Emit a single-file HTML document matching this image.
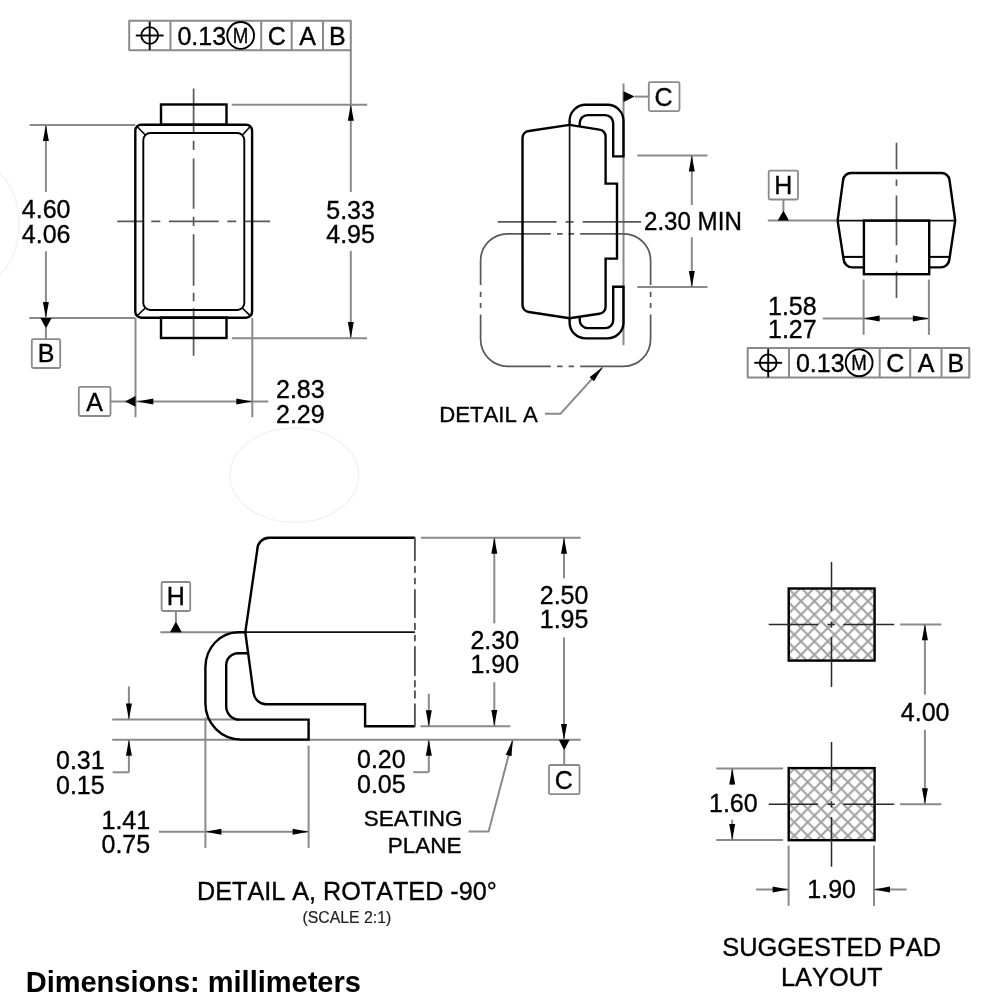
<!DOCTYPE html>
<html><head><meta charset="utf-8"><style>
html,body{margin:0;padding:0;background:#fff;}
svg{display:block;will-change:transform;}
text{font-family:"Liberation Sans",sans-serif;fill:#000;font-kerning:none;stroke:#000;stroke-width:0.35px;}
</style></head><body>
<svg width="996" height="1000" viewBox="0 0 996 1000">
<rect width="996" height="1000" fill="#fff"/>
<path d="M193.6,88.4V133 M193.6,140.8V150 M193.6,158.4V208.8 M193.6,216.7V226.1 M193.6,234.3V285.8 M193.6,292.8V301.2 M193.6,308.2V355.8" stroke="#585858" stroke-width="1.7" fill="none"/>
<path d="M117.2,221.4H143.3 M151.3,221.4H160.3 M168.9,221.4H218.7 M227.4,221.4H236.3 M244.8,221.4H270.1" stroke="#585858" stroke-width="1.7" fill="none"/>
<line x1="29.6" y1="125" x2="135.3" y2="125" stroke="#8a8a8a" stroke-width="2" fill="none" stroke-linejoin="round"/>
<line x1="45.9" y1="125" x2="45.9" y2="192" stroke="#8a8a8a" stroke-width="2" fill="none" stroke-linejoin="round"/>
<line x1="45.9" y1="251.3" x2="45.9" y2="318" stroke="#8a8a8a" stroke-width="2" fill="none" stroke-linejoin="round"/>
<line x1="29.4" y1="318" x2="135.3" y2="318" stroke="#8a8a8a" stroke-width="2" fill="none" stroke-linejoin="round"/>
<line x1="45.9" y1="328" x2="45.9" y2="339.2" stroke="#8a8a8a" stroke-width="2" fill="none" stroke-linejoin="round"/>
<rect x="31.8" y="339.2" width="28.4" height="28.8" rx="1.5" stroke="#8a8a8a" stroke-width="1.8" fill="none"/>
<line x1="350.8" y1="50" x2="350.8" y2="192" stroke="#8a8a8a" stroke-width="2" fill="none" stroke-linejoin="round"/>
<line x1="231.7" y1="104.8" x2="367.2" y2="104.8" stroke="#8a8a8a" stroke-width="2" fill="none" stroke-linejoin="round"/>
<line x1="350.8" y1="250.8" x2="350.8" y2="338" stroke="#8a8a8a" stroke-width="2" fill="none" stroke-linejoin="round"/>
<line x1="232" y1="338.2" x2="367" y2="338.2" stroke="#8a8a8a" stroke-width="2" fill="none" stroke-linejoin="round"/>
<line x1="135.5" y1="318" x2="135.5" y2="417.2" stroke="#8a8a8a" stroke-width="2" fill="none" stroke-linejoin="round"/>
<line x1="252.3" y1="318" x2="252.3" y2="417.2" stroke="#8a8a8a" stroke-width="2" fill="none" stroke-linejoin="round"/>
<line x1="110.5" y1="401.4" x2="268.2" y2="401.4" stroke="#8a8a8a" stroke-width="2" fill="none" stroke-linejoin="round"/>
<rect x="78.8" y="386.9" width="31.7" height="29.1" rx="1.5" stroke="#8a8a8a" stroke-width="1.8" fill="none"/>
<line x1="623.5" y1="83.6" x2="623.5" y2="345.3" stroke="#8a8a8a" stroke-width="2" fill="none" stroke-linejoin="round"/>
<line x1="634.7" y1="96.6" x2="648.8" y2="96.6" stroke="#8a8a8a" stroke-width="2" fill="none" stroke-linejoin="round"/>
<rect x="648.8" y="82.2" width="30.7" height="28.9" rx="1.5" stroke="#8a8a8a" stroke-width="1.8" fill="none"/>
<path d="M497.7,221.8H556.6 M565.6,221.8H573.6 M582.7,221.8H641" stroke="#585858" stroke-width="1.7" fill="none"/>
<path d="M507.6,233.8 H550.8 M557,233.8 H562.6 M568.6,233.8 H574.1 M580.2,233.8 H623.6 A27,27 0 0 1 650.6,260.8 V285 M650.6,291.7 V296.9 M650.6,302.9 V308.1 M650.6,314.4 V339.3 A27,27 0 0 1 623.6,366.3 H580.2 M574.1,366.3 H568.6 M562.6,366.3 H557 M550.8,366.3 H507.6 A27,27 0 0 1 480.6,339.3 V314.4 M480.6,308.1 V302.9 M480.6,296.9 V291.7 M480.6,285 V260.8 A27,27 0 0 1 507.6,233.8" stroke="#585858" stroke-width="1.7" fill="none"/>
<path d="M545,413.8 H560.4 L602.5,367.3" stroke="#8a8a8a" stroke-width="2" fill="none" stroke-linejoin="round"/>
<line x1="637.3" y1="155.6" x2="707.5" y2="155.6" stroke="#8a8a8a" stroke-width="2" fill="none" stroke-linejoin="round"/>
<line x1="637.3" y1="287" x2="707.5" y2="287" stroke="#8a8a8a" stroke-width="2" fill="none" stroke-linejoin="round"/>
<line x1="691.8" y1="155.6" x2="691.8" y2="205" stroke="#8a8a8a" stroke-width="2" fill="none" stroke-linejoin="round"/>
<line x1="691.8" y1="237.2" x2="691.8" y2="287" stroke="#8a8a8a" stroke-width="2" fill="none" stroke-linejoin="round"/>
<rect x="768.7" y="170.6" width="29.3" height="28.9" rx="1.5" stroke="#8a8a8a" stroke-width="1.8" fill="none"/>
<line x1="783.4" y1="199.5" x2="783.4" y2="211" stroke="#8a8a8a" stroke-width="2" fill="none" stroke-linejoin="round"/>
<line x1="767.8" y1="220.6" x2="837.6" y2="220.6" stroke="#8a8a8a" stroke-width="2" fill="none" stroke-linejoin="round"/>
<path d="M896.5,142.8V169.2 M896.5,179.6V186 M896.5,195.6V245.2 M896.5,254.8V262.8 M896.5,271.6V298.1" stroke="#585858" stroke-width="1.7" fill="none"/>
<line x1="863.6" y1="279.6" x2="863.6" y2="334.8" stroke="#8a8a8a" stroke-width="2" fill="none" stroke-linejoin="round"/>
<line x1="928.9" y1="279.6" x2="928.9" y2="334.8" stroke="#8a8a8a" stroke-width="2" fill="none" stroke-linejoin="round"/>
<line x1="822.8" y1="318.4" x2="928.9" y2="318.4" stroke="#8a8a8a" stroke-width="2" fill="none" stroke-linejoin="round"/>
<rect x="161.6" y="582" width="28.6" height="29" rx="1.5" stroke="#8a8a8a" stroke-width="1.8" fill="none"/>
<line x1="175.9" y1="611.6" x2="175.9" y2="622" stroke="#8a8a8a" stroke-width="2" fill="none" stroke-linejoin="round"/>
<line x1="160.4" y1="632.2" x2="245.3" y2="632.2" stroke="#8a8a8a" stroke-width="2" fill="none" stroke-linejoin="round"/>
<line x1="112.2" y1="719.6" x2="240" y2="719.6" stroke="#8a8a8a" stroke-width="2" fill="none" stroke-linejoin="round"/>
<line x1="112.2" y1="739.8" x2="580.6" y2="739.8" stroke="#8a8a8a" stroke-width="2" fill="none" stroke-linejoin="round"/>
<line x1="205.4" y1="717.5" x2="205.4" y2="848" stroke="#8a8a8a" stroke-width="2" fill="none" stroke-linejoin="round"/>
<line x1="308.6" y1="745.6" x2="308.6" y2="848" stroke="#8a8a8a" stroke-width="2" fill="none" stroke-linejoin="round"/>
<line x1="128.9" y1="686.4" x2="128.9" y2="719.6" stroke="#8a8a8a" stroke-width="2" fill="none" stroke-linejoin="round"/>
<line x1="128.9" y1="739.8" x2="128.9" y2="772.3" stroke="#8a8a8a" stroke-width="2" fill="none" stroke-linejoin="round"/>
<line x1="112.7" y1="772.3" x2="128.9" y2="772.3" stroke="#8a8a8a" stroke-width="2" fill="none" stroke-linejoin="round"/>
<line x1="159" y1="831.8" x2="308.6" y2="831.8" stroke="#8a8a8a" stroke-width="2" fill="none" stroke-linejoin="round"/>
<line x1="420.5" y1="726.2" x2="510.4" y2="726.2" stroke="#8a8a8a" stroke-width="2" fill="none" stroke-linejoin="round"/>
<line x1="428.8" y1="693.7" x2="428.8" y2="726.2" stroke="#8a8a8a" stroke-width="2" fill="none" stroke-linejoin="round"/>
<line x1="428.8" y1="739.8" x2="428.8" y2="772.2" stroke="#8a8a8a" stroke-width="2" fill="none" stroke-linejoin="round"/>
<line x1="413.3" y1="772.2" x2="428.8" y2="772.2" stroke="#8a8a8a" stroke-width="2" fill="none" stroke-linejoin="round"/>
<line x1="421" y1="537.7" x2="580.6" y2="537.7" stroke="#8a8a8a" stroke-width="2" fill="none" stroke-linejoin="round"/>
<line x1="494.3" y1="537.7" x2="494.3" y2="623.4" stroke="#8a8a8a" stroke-width="2" fill="none" stroke-linejoin="round"/>
<line x1="494.3" y1="682.2" x2="494.3" y2="726" stroke="#8a8a8a" stroke-width="2" fill="none" stroke-linejoin="round"/>
<line x1="564" y1="537.7" x2="564" y2="578.2" stroke="#8a8a8a" stroke-width="2" fill="none" stroke-linejoin="round"/>
<line x1="564" y1="637.5" x2="564" y2="740" stroke="#8a8a8a" stroke-width="2" fill="none" stroke-linejoin="round"/>
<line x1="564.2" y1="750" x2="564.2" y2="764.6" stroke="#8a8a8a" stroke-width="2" fill="none" stroke-linejoin="round"/>
<rect x="549" y="765" width="30.5" height="29.2" rx="1.5" stroke="#8a8a8a" stroke-width="1.8" fill="none"/>
<path d="M468.5,831.4 H488.6 L512.7,740" stroke="#8a8a8a" stroke-width="2" fill="none" stroke-linejoin="round"/>
<line x1="900" y1="624.5" x2="941.4" y2="624.5" stroke="#8a8a8a" stroke-width="2" fill="none" stroke-linejoin="round"/>
<line x1="900" y1="804.3" x2="941.4" y2="804.3" stroke="#8a8a8a" stroke-width="2" fill="none" stroke-linejoin="round"/>
<line x1="924.9" y1="624.3" x2="924.9" y2="694.6" stroke="#8a8a8a" stroke-width="2" fill="none" stroke-linejoin="round"/>
<line x1="924.9" y1="729.8" x2="924.9" y2="804.2" stroke="#8a8a8a" stroke-width="2" fill="none" stroke-linejoin="round"/>
<line x1="716.3" y1="768.4" x2="783.1" y2="768.4" stroke="#8a8a8a" stroke-width="2" fill="none" stroke-linejoin="round"/>
<line x1="716.3" y1="840.1" x2="783.1" y2="840.1" stroke="#8a8a8a" stroke-width="2" fill="none" stroke-linejoin="round"/>
<line x1="732.2" y1="768.4" x2="732.2" y2="785" stroke="#8a8a8a" stroke-width="2" fill="none" stroke-linejoin="round"/>
<line x1="732.2" y1="819.6" x2="732.2" y2="840.1" stroke="#8a8a8a" stroke-width="2" fill="none" stroke-linejoin="round"/>
<line x1="788.6" y1="845.6" x2="788.6" y2="905.9" stroke="#8a8a8a" stroke-width="2" fill="none" stroke-linejoin="round"/>
<line x1="874" y1="845.6" x2="874" y2="905.9" stroke="#8a8a8a" stroke-width="2" fill="none" stroke-linejoin="round"/>
<line x1="756.1" y1="889.5" x2="788.6" y2="889.5" stroke="#8a8a8a" stroke-width="2" fill="none" stroke-linejoin="round"/>
<line x1="874" y1="889.5" x2="906.6" y2="889.5" stroke="#8a8a8a" stroke-width="2" fill="none" stroke-linejoin="round"/>
<ellipse cx="-41" cy="224" rx="60" ry="70" stroke="#f2f2f2" stroke-width="1.4" fill="none"/>
<ellipse cx="294.3" cy="475.2" rx="64.3" ry="47.2" stroke="#f2f2f2" stroke-width="1.4" fill="none"/>
<g id="fcf">
<rect x="129.2" y="20.8" width="221.6" height="29.4" stroke="#8a8a8a" stroke-width="2" fill="none" stroke-linejoin="round"/>
<line x1="170.5" y1="20.8" x2="170.5" y2="50.2" stroke="#8a8a8a" stroke-width="2" fill="none" stroke-linejoin="round"/>
<line x1="261.2" y1="20.8" x2="261.2" y2="50.2" stroke="#8a8a8a" stroke-width="2" fill="none" stroke-linejoin="round"/>
<line x1="291.7" y1="20.8" x2="291.7" y2="50.2" stroke="#8a8a8a" stroke-width="2" fill="none" stroke-linejoin="round"/>
<line x1="323.0" y1="20.8" x2="323.0" y2="50.2" stroke="#8a8a8a" stroke-width="2" fill="none" stroke-linejoin="round"/>
<circle cx="149.7" cy="35.5" r="8.4" stroke="#000" stroke-width="1.9" fill="none"/>
<line x1="135.8" y1="35.5" x2="163.6" y2="35.5" stroke="#000" stroke-width="1.9"/>
<line x1="149.7" y1="21.6" x2="149.7" y2="50" stroke="#000" stroke-width="1.9"/>
<text x="177.4" y="44.5" font-size="25" text-anchor="start" font-weight="normal" >0.13</text>
<circle cx="240.65" cy="35.45" r="13.4" stroke="#000" stroke-width="1.9" fill="none"/>
<text x="240.65" y="43" font-size="22" text-anchor="middle" font-weight="normal" transform="translate(240.65,0) scale(0.85,1) translate(-240.65,0)">M</text>
<text x="276.7" y="44.5" font-size="25" text-anchor="middle" font-weight="normal" >C</text>
<text x="307.5" y="44.5" font-size="25" text-anchor="middle" font-weight="normal" >A</text>
<text x="337.4" y="44.5" font-size="25" text-anchor="middle" font-weight="normal" >B</text>
</g>
<rect x="161" y="104.5" width="65.5" height="20.2" stroke="#000" stroke-width="2.4" fill="none" stroke-linejoin="miter"/>
<rect x="161" y="317.6" width="65.5" height="20.4" stroke="#000" stroke-width="2.4" fill="none" stroke-linejoin="miter"/>
<rect x="135.3" y="124.7" width="116.8" height="193" rx="6" stroke="#000" stroke-width="2.4" fill="none" stroke-linejoin="miter"/>
<rect x="143.3" y="133" width="101" height="177" rx="7" stroke="#000" stroke-width="1.9" fill="none"/>
<line x1="137.3" y1="126.7" x2="145.3" y2="135" stroke="#000" stroke-width="1.6"/>
<line x1="250.1" y1="126.7" x2="242.3" y2="135" stroke="#000" stroke-width="1.6"/>
<line x1="137.3" y1="315.6" x2="145.3" y2="308" stroke="#000" stroke-width="1.6"/>
<line x1="250.1" y1="315.6" x2="242.3" y2="308" stroke="#000" stroke-width="1.6"/>
<polygon points="45.90,125.00 48.90,141.00 42.90,141.00" fill="#000"/>
<text x="46.2" y="218.4" font-size="25" text-anchor="middle" font-weight="normal" >4.60</text>
<text x="46.2" y="242.8" font-size="25" text-anchor="middle" font-weight="normal" >4.06</text>
<polygon points="45.90,318.00 42.90,302.00 48.90,302.00" fill="#000"/>
<polygon points="40.4,318 51.6,318 46,328.5" fill="#000"/>
<text x="46" y="362.3" font-size="25" text-anchor="middle" font-weight="normal" >B</text>
<polygon points="350.80,104.80 353.80,120.80 347.80,120.80" fill="#000"/>
<text x="350.6" y="218.5" font-size="25" text-anchor="middle" font-weight="normal" >5.33</text>
<text x="350.6" y="242.5" font-size="25" text-anchor="middle" font-weight="normal" >4.95</text>
<polygon points="350.80,338.00 347.80,322.00 353.80,322.00" fill="#000"/>
<polygon points="125,401.4 135.5,396 135.5,406.8" fill="#000"/>
<polygon points="137.30,401.40 153.30,398.40 153.30,404.40" fill="#000"/>
<polygon points="252.30,401.40 236.30,404.40 236.30,398.40" fill="#000"/>
<text x="94.6" y="410.7" font-size="25" text-anchor="middle" font-weight="normal" >A</text>
<text x="276" y="398.3" font-size="25" text-anchor="start" font-weight="normal" >2.83</text>
<text x="276" y="422.7" font-size="25" text-anchor="start" font-weight="normal" >2.29</text>
<polygon points="623.5,91.3 623.5,101.9 634.7,96.6" fill="#000"/>
<text x="663.6" y="105.6" font-size="25" text-anchor="middle" font-weight="normal" >C</text>
<path d="M569.6,125 V120.8 A16,16 0 0 1 585.6,104.8 H607.5 A16,16 0 0 1 623.5,120.8 V156.4 H613.2 V123 A8,8 0 0 0 605.2,115.1 H587.7 A8,8 0 0 0 579.7,123.1 V126" stroke="#000" stroke-width="2.4" fill="none" stroke-linejoin="miter"/>
<path d="M569.6,318.2 V322.4 A16,16 0 0 0 585.6,338.4 H607.5 A16,16 0 0 0 623.5,322.4 V286.8 H613.2 V320.2 A8,8 0 0 1 605.2,328.1 H587.7 A8,8 0 0 1 579.7,320.1 V317.2" stroke="#000" stroke-width="2.4" fill="none" stroke-linejoin="miter"/>
<path d="M569.6,124.9 L528.8,131 A7,7 0 0 0 522.5,138 V305 A7,7 0 0 0 528.8,312 L569.6,318.3 L599.4,313.8 A7,7 0 0 0 605.6,306.8 V258.6 H617 V183.6 H605.6 V136.6 A7,7 0 0 0 599.4,129.6 Z" stroke="#000" stroke-width="2.4" fill="none" stroke-linejoin="miter"/>
<line x1="569.6" y1="124.9" x2="569.6" y2="318.3" stroke="#111" stroke-width="1.7" fill="none"/>
<polygon points="602.50,367.30 593.99,381.17 589.54,377.15" fill="#000"/>
<text x="439.2" y="422" font-size="22.2" text-anchor="start" font-weight="normal" >DETAIL A</text>
<polygon points="691.80,155.60 694.80,171.60 688.80,171.60" fill="#000"/>
<polygon points="691.80,287.00 688.80,271.00 694.80,271.00" fill="#000"/>
<text x="644" y="230" font-size="25" text-anchor="start" font-weight="normal" transform="translate(644,0) scale(0.965,1) translate(-644,0)">2.30 MIN</text>
<text x="783.3" y="194.2" font-size="25" text-anchor="middle" font-weight="normal" >H</text>
<polygon points="777.8,220.6 789,220.6 783.4,210.6" fill="#000"/>
<line x1="837.6" y1="220.6" x2="955.2" y2="220.6" stroke="#111" stroke-width="1.7" fill="none"/>
<path d="M837.6,220.6 L843.1,180 A8,8 0 0 1 851,173 H941.6 A8,8 0 0 1 949.5,180 L955.2,220.6 L949.5,258.6 A9,9 0 0 1 940.6,267.4 H929.2 M863.9,267.4 H852.4 A9,9 0 0 1 843.5,258.6 L837.6,220.6" stroke="#000" stroke-width="2.4" fill="none" stroke-linejoin="miter"/>
<line x1="843.5" y1="256.9" x2="863.9" y2="256.9" stroke="#000" stroke-width="2"/>
<line x1="929.2" y1="256.9" x2="949.2" y2="256.9" stroke="#000" stroke-width="2"/>
<rect x="863.9" y="220.6" width="65.3" height="53.6" stroke="#000" stroke-width="2.4" fill="none" stroke-linejoin="miter"/>
<polygon points="863.60,318.40 879.60,315.40 879.60,321.40" fill="#000"/>
<polygon points="928.90,318.40 912.90,321.40 912.90,315.40" fill="#000"/>
<text x="768" y="314.7" font-size="25" text-anchor="start" font-weight="normal" >1.58</text>
<text x="768" y="338.3" font-size="25" text-anchor="start" font-weight="normal" >1.27</text>
<use href="#fcf" transform="translate(618.5,327.3)"/>
<text x="175.7" y="605.3" font-size="25" text-anchor="middle" font-weight="normal" >H</text>
<polygon points="170,632.2 181.8,632.2 175.9,621.5" fill="#000"/>
<line x1="245.3" y1="632.2" x2="414.9" y2="632.2" stroke="#111" stroke-width="1.7" fill="none"/>
<path d="M414.9,537.7 H268.9 A12,12 0 0 0 257.3,549.7 L245.3,632.2 L253.5,692.8 A13,13 0 0 0 265.9,704.2 H365.1 V726.2 H414.9" stroke="#000" stroke-width="2.4" fill="none" stroke-linejoin="miter"/>
<path d="M414.9,537.7V560.2 M414.9,566.6V572.2 M414.9,578.6V583.5 M414.9,589.9V617.2 M414.9,623.6V629.2 M414.9,635.7V640.5 M414.9,646.9V675.3 M414.9,680.9V686.5 M414.9,691.3V697.8 M414.9,704.2V726.2" stroke="#555" stroke-width="1.9" fill="none" stroke-linecap="round"/>
<path d="M245.3,632.2 H238.4 A33,35 0 0 0 205.4,667.2 V703.6 A36,36 0 0 0 241.4,739.6 H308.6 V719.6 H239.2 A13,13 0 0 1 226.2,706.6 V665.2 A12,12 0 0 1 238.2,653.2 H247.9" stroke="#000" stroke-width="2.4" fill="none" stroke-linejoin="miter"/>
<polygon points="128.90,719.60 125.90,703.60 131.90,703.60" fill="#000"/>
<polygon points="128.90,739.80 131.90,755.80 125.90,755.80" fill="#000"/>
<text x="56" y="769.2" font-size="25" text-anchor="start" font-weight="normal" >0.31</text>
<text x="56" y="793.6" font-size="25" text-anchor="start" font-weight="normal" >0.15</text>
<polygon points="205.40,831.80 221.40,828.80 221.40,834.80" fill="#000"/>
<polygon points="308.60,831.80 292.60,834.80 292.60,828.80" fill="#000"/>
<text x="101.5" y="828.6" font-size="25" text-anchor="start" font-weight="normal" >1.41</text>
<text x="101.5" y="852.7" font-size="25" text-anchor="start" font-weight="normal" >0.75</text>
<polygon points="428.80,726.20 425.80,710.20 431.80,710.20" fill="#000"/>
<polygon points="428.80,739.80 431.80,755.80 425.80,755.80" fill="#000"/>
<text x="357" y="768.3" font-size="25" text-anchor="start" font-weight="normal" >0.20</text>
<text x="357" y="793.3" font-size="25" text-anchor="start" font-weight="normal" >0.05</text>
<polygon points="494.30,537.70 497.30,553.70 491.30,553.70" fill="#000"/>
<text x="494.8" y="648.5" font-size="25" text-anchor="middle" font-weight="normal" >2.30</text>
<text x="494.8" y="672.6" font-size="25" text-anchor="middle" font-weight="normal" >1.90</text>
<polygon points="494.30,726.00 491.30,710.00 497.30,710.00" fill="#000"/>
<polygon points="564.00,537.70 567.00,553.70 561.00,553.70" fill="#000"/>
<text x="564.1" y="603.9" font-size="25" text-anchor="middle" font-weight="normal" >2.50</text>
<text x="564.1" y="628.4" font-size="25" text-anchor="middle" font-weight="normal" >1.95</text>
<polygon points="564.00,740.00 561.00,724.00 567.00,724.00" fill="#000"/>
<polygon points="558.8,739.8 569.6,739.8 564.2,750.5" fill="#000"/>
<text x="563.8" y="788.5" font-size="25" text-anchor="middle" font-weight="normal" >C</text>
<polygon points="512.70,740.00 511.52,756.24 505.72,754.71" fill="#000"/>
<text x="462.5" y="826.3" font-size="22.5" text-anchor="end" font-weight="normal" >SEATING</text>
<text x="461.5" y="852.5" font-size="22.5" text-anchor="end" font-weight="normal" >PLANE</text>
<text x="197" y="900.2" font-size="25.2" text-anchor="start" font-weight="normal" >DETAIL A, ROTATED -90°</text>
<text x="302.5" y="923.1" font-size="15.8" text-anchor="start" font-weight="normal" style="fill:#222;stroke:#222;stroke-width:0.2px">(SCALE 2:1)</text>
<text x="25.7" y="991.9" font-size="29" text-anchor="start" font-weight="bold" style="stroke-width:0">Dimensions: millimeters</text>
<defs><pattern id="hatch" patternUnits="userSpaceOnUse" x="3.7" y="4.85" width="13.4" height="13.4"><path d="M-2,-2 L15.4,15.4 M15.4,-2 L-2,15.4" stroke="#a2a2a2" stroke-width="2.1"/></pattern></defs>
<rect x="788.7" y="588.5" width="85.9" height="72.1" fill="url(#hatch)" stroke="#000" stroke-width="2.4"  stroke-linejoin="miter"/>
<path d="M831.5,562.1V611.3 M831.5,621.5V627.8 M831.5,637.2V687.0" stroke="#2a2a2a" stroke-width="1.5" fill="none"/>
<path d="M768.7,624.5H818.1 M827.4,624.5H834.9 M843.4,624.5H894.2" stroke="#2a2a2a" stroke-width="1.5" fill="none"/>
<rect x="788.7" y="768.1" width="85.9" height="72.1" fill="url(#hatch)" stroke="#000" stroke-width="2.4"  stroke-linejoin="miter"/>
<path d="M831.5,741.9V791.0999999999999 M831.5,801.3V807.5999999999999 M831.5,817.0V866.8" stroke="#2a2a2a" stroke-width="1.5" fill="none"/>
<path d="M768.7,804.3H818.1 M827.4,804.3H834.9 M843.4,804.3H894.2" stroke="#2a2a2a" stroke-width="1.5" fill="none"/>
<polygon points="924.90,624.30 927.90,640.30 921.90,640.30" fill="#000"/>
<polygon points="924.90,804.20 921.90,788.20 927.90,788.20" fill="#000"/>
<text x="925.2" y="720.6" font-size="25" text-anchor="middle" font-weight="normal" >4.00</text>
<polygon points="732.20,768.40 735.20,784.40 729.20,784.40" fill="#000"/>
<polygon points="732.20,840.10 729.20,824.10 735.20,824.10" fill="#000"/>
<text x="709" y="811.5" font-size="25" text-anchor="start" font-weight="normal" >1.60</text>
<polygon points="788.60,889.50 772.60,892.50 772.60,886.50" fill="#000"/>
<polygon points="874.00,889.50 890.00,886.50 890.00,892.50" fill="#000"/>
<text x="831.7" y="897.8" font-size="25" text-anchor="middle" font-weight="normal" >1.90</text>
<text x="831.7" y="955.9" font-size="25.4" text-anchor="middle" font-weight="normal" >SUGGESTED PAD</text>
<text x="831.7" y="986.4" font-size="25.4" text-anchor="middle" font-weight="normal" >LAYOUT</text>
</svg></body></html>
